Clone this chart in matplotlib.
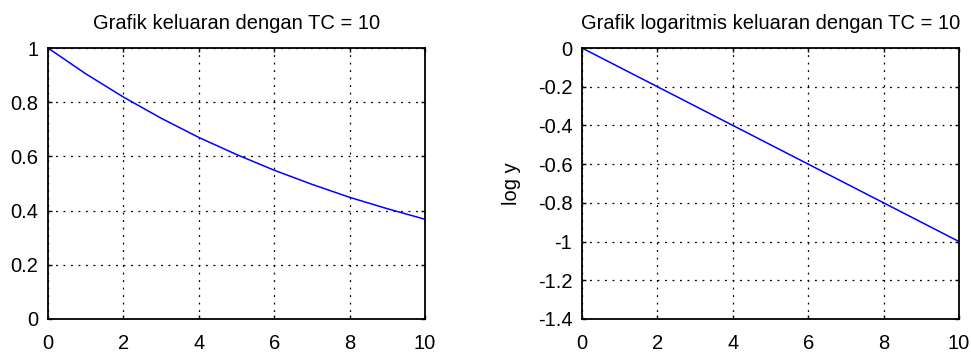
import matplotlib
matplotlib.use("Agg")
import matplotlib.pyplot as plt

# ── Data ──────────────────────────────────────────────────────────────────────
t = [0, 1, 2, 3, 4, 5, 6, 7, 8, 9, 10]
y = [1.0, 0.905, 0.819, 0.741, 0.670, 0.607, 0.549, 0.497, 0.449, 0.407, 0.368]
log_y = [0.0, -0.1, -0.2, -0.3, -0.4, -0.5, -0.6, -0.7, -0.8, -0.9, -1.0]

x_ticks = [0, 2, 4, 6, 8, 10]
y_ticks_l = [0, 0.2, 0.4, 0.6, 0.8, 1]
y_ticks_r = [0, -0.2, -0.4, -0.6, -0.8, -1, -1.2, -1.4]

plt.rcParams["font.family"] = ["Liberation Sans", "DejaVu Sans"]
FS = 14.5

fig = plt.figure(figsize=(9.71, 3.54), dpi=100)
ax_l = fig.add_axes([0.0494, 0.0989, 0.3883, 0.7655])
ax_r = fig.add_axes([0.5994, 0.0989, 0.3883, 0.7655])


def _fmt(v):
    return f"{v:g}"


def _style(ax, yticks, ylim):
    ax.set_xlim(0, 10)
    ax.set_ylim(*ylim)
    ax.set_xticks(x_ticks)
    ax.set_xticklabels([_fmt(v) for v in x_ticks])
    ax.set_yticks(yticks)
    ax.set_yticklabels([_fmt(v) for v in yticks])
    ax.grid(True, color="black", linestyle=(0, (1.5, 4.5)), linewidth=0.9)
    ax.tick_params(direction="in", length=3, width=1, labelsize=FS,
                   top=True, right=True)
    ax.tick_params(axis="x", pad=11)
    ax.tick_params(axis="y", pad=7)
    for s in ax.spines.values():
        s.set_linewidth(1.3)


# ── Left ──────────────────────────────────────────────────────────────────────
ax_l.plot(t, y, color="#0000ff", linewidth=1.1)
_style(ax_l, y_ticks_l, (0, 1))
ax_l.set_title("Grafik keluaran dengan TC = 10", fontsize=FS, pad=14)

# ── Right ─────────────────────────────────────────────────────────────────────
ax_r.plot(t, log_y, color="#0000ff", linewidth=1.1)
_style(ax_r, y_ticks_r, (-1.4, 0))
ax_r.set_title("Grafik logaritmis keluaran dengan TC = 10", fontsize=FS, pad=14)
ax_r.set_ylabel("log y", fontsize=FS, labelpad=12)

fig.savefig("out.png", dpi=100)
